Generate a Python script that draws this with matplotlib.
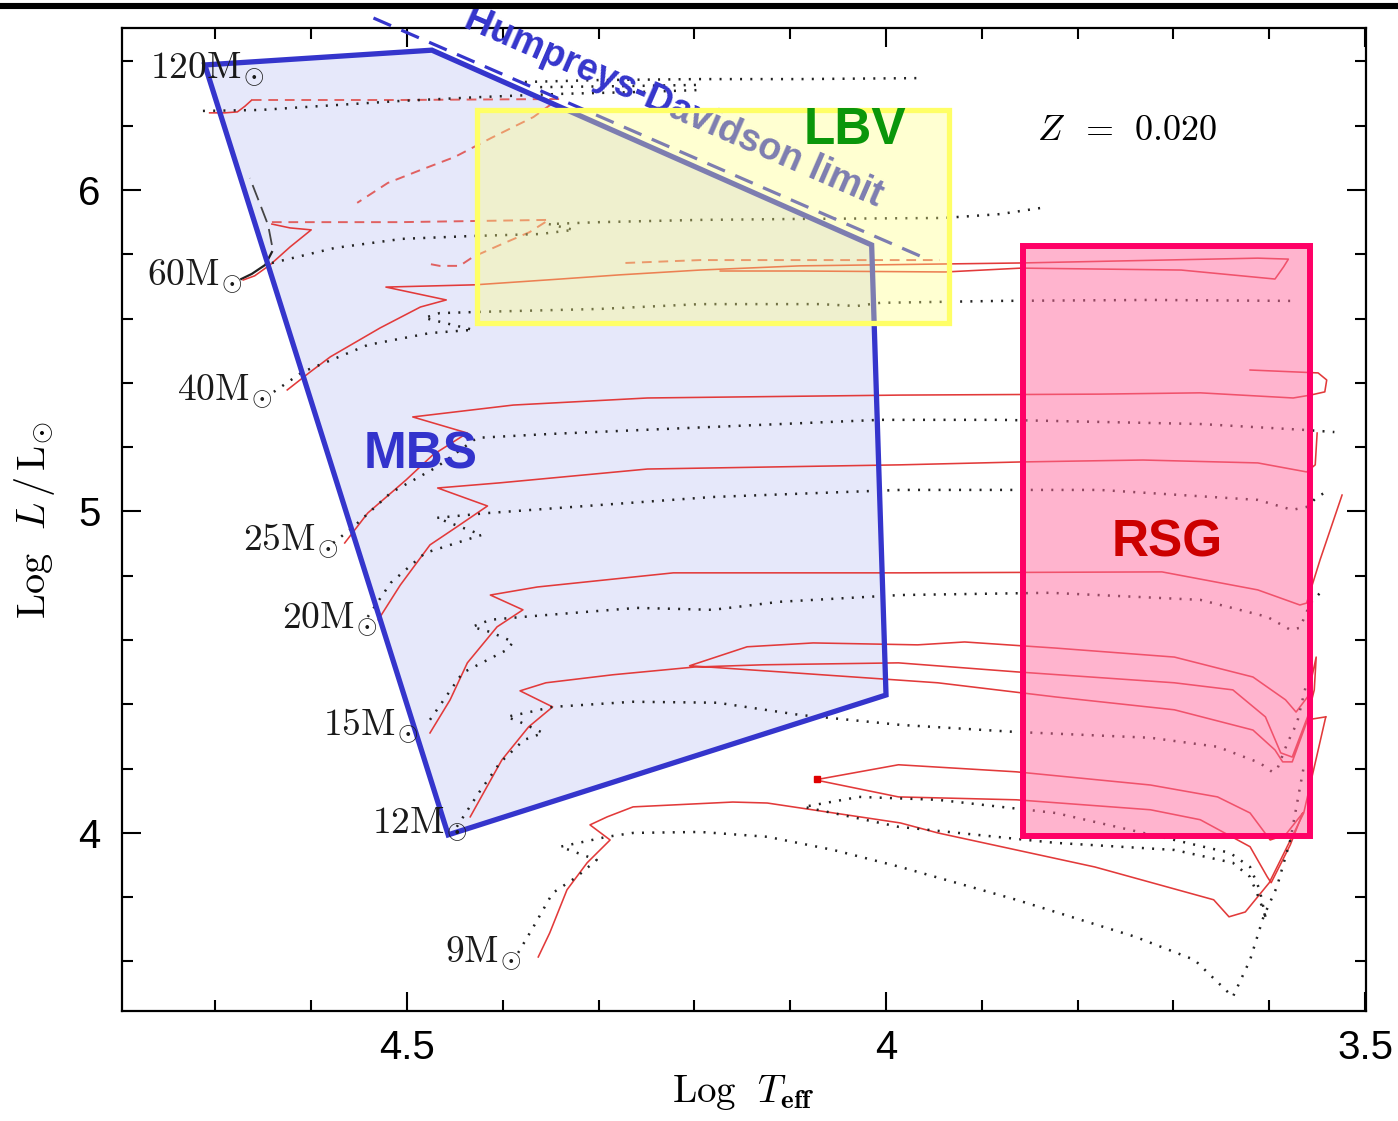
import matplotlib
matplotlib.use("Agg")
import matplotlib.pyplot as plt
from matplotlib.patches import Polygon, Rectangle
from matplotlib.lines import Line2D
from matplotlib.ticker import MultipleLocator, FuncFormatter

plt.rcParams['mathtext.fontset'] = 'cm'
plt.rcParams['font.family'] = ['Liberation Sans', 'DejaVu Sans']

# ---------------- data (log Teff, log L/Lsun) ----------------
# 120 Msun
m120_red_x = [4.706, 4.690, 4.677, 4.669, 4.662]
m120_red_y = [6.240, 6.240, 6.243, 6.261, 6.280]
m120_reddash_x = [4.662, 4.507, 4.342, 4.368, 4.412, 4.450, 4.486, 4.520, 4.552]
m120_reddash_y = [6.280, 6.280, 6.283, 6.227, 6.162, 6.103, 6.062, 6.022, 5.960]
m120_dot_x = [4.713, 4.653, 4.591, 4.507, 4.424, 4.340, 4.257, 4.194]
m120_dot_y = [6.246, 6.249, 6.261, 6.277, 6.289, 6.299, 6.305, 6.311]
m120_dot2_x = [4.377, 4.299, 4.194, 4.090, 3.967]
m120_dot2_y = [6.336, 6.342, 6.345, 6.345, 6.348]
m120_dot3_x = [4.361, 4.278, 4.194]
m120_dot3_y = [6.320, 6.323, 6.327]

# 60 Msun
m60_blk_x = [4.673, 4.662, 4.648, 4.641]
m60_blk_y = [5.723, 5.739, 5.767, 5.807]
m60_blkdash_x = [4.641, 4.645, 4.653, 4.664]
m60_blkdash_y = [5.829, 5.891, 5.953, 6.037]
m60_red_x = [4.671, 4.659, 4.643, 4.622, 4.600, 4.622, 4.641]
m60_red_y = [5.720, 5.733, 5.767, 5.823, 5.876, 5.882, 5.894]
m60_reddash_x = [4.641, 4.507, 4.352, 4.372, 4.403, 4.431, 4.445, 4.466, 4.482]
m60_reddash_y = [5.900, 5.900, 5.907, 5.869, 5.829, 5.792, 5.764, 5.764, 5.773]
m60_dot_x = [4.641, 4.575, 4.505, 4.431, 4.361, 4.326, 4.352, 4.299, 4.194, 4.090, 3.940, 3.881, 3.832]
m60_dot_y = [5.773, 5.820, 5.848, 5.857, 5.863, 5.876, 5.894, 5.900, 5.907, 5.910, 5.913, 5.925, 5.947]

# 40 Msun
m40_red_x = [4.625, 4.601, 4.580, 4.528, 4.486, 4.459, 4.522, 4.429, 4.340, 4.278, 4.194, 4.090,
             3.859, 3.612, 3.580, 3.585, 3.594, 3.692, 3.859, 3.938, 4.090, 4.173]
m40_red_y = [5.378, 5.434, 5.481, 5.571, 5.636, 5.658, 5.698, 5.705, 5.723, 5.736, 5.751, 5.764,
             5.773, 5.788, 5.785, 5.761, 5.723, 5.751, 5.757, 5.745, 5.748, 5.748]
m40_reddash_x = [4.272, 4.194, 4.090, 3.944]
m40_reddash_y = [5.773, 5.782, 5.782, 5.782]
m40_dot_x = [4.639, 4.609, 4.541, 4.476, 4.431, 4.482, 4.466, 4.422, 4.299, 4.194, 4.069, 4.031,
             4.006, 3.881, 3.724, 3.578]
m40_dot_y = [5.372, 5.434, 5.518, 5.555, 5.565, 5.602, 5.617, 5.621, 5.630, 5.645, 5.645, 5.639,
             5.649, 5.655, 5.658, 5.655]

# 25 Msun
m25_red_x = [4.565, 4.541, 4.501, 4.473, 4.437, 4.494, 4.389, 4.249, 3.985, 3.777, 3.672, 3.575,
             3.557, 3.542, 3.540, 3.549, 3.620]
m25_red_y = [4.902, 4.995, 5.098, 5.176, 5.244, 5.294, 5.331, 5.353, 5.362, 5.365, 5.369, 5.353,
             5.362, 5.372, 5.409, 5.431, 5.440]
m25_dot_x = [4.577, 4.556, 4.517, 4.469, 4.427, 4.351, 4.181, 4.006, 3.881, 3.672, 3.565, 3.532]
m25_dot_y = [4.902, 4.952, 5.058, 5.138, 5.229, 5.241, 5.263, 5.285, 5.285, 5.272, 5.254, 5.247]

# 20 Msun
m20_red_x = [4.530, 4.507, 4.476, 4.448, 4.416, 4.468, 4.403, 4.249, 3.985, 3.859, 3.732, 3.612,
             3.561, 3.552, 3.550]
m20_red_y = [4.663, 4.771, 4.896, 4.952, 5.017, 5.073, 5.089, 5.132, 5.145, 5.154, 5.160, 5.151,
             5.123, 5.145, 5.244]
m20_dot_x = [4.541, 4.517, 4.481, 4.422, 4.469, 4.416, 4.299, 4.181, 3.985, 3.777, 3.612, 3.576,
             3.561, 3.550, 3.537]
m20_dot_y = [4.672, 4.778, 4.871, 4.927, 4.980, 4.995, 5.020, 5.045, 5.067, 5.067, 5.036, 5.005,
             5.014, 5.045, 5.067]

# 15 Msun
m15_red_x = [4.476, 4.455, 4.437, 4.406, 4.379, 4.413, 4.364, 4.222, 3.985, 3.712, 3.612, 3.568,
             3.561, 3.547, 3.524]
m15_red_y = [4.311, 4.414, 4.529, 4.641, 4.694, 4.740, 4.765, 4.809, 4.809, 4.812, 4.756, 4.709,
             4.715, 4.849, 5.051]
m15_dot_x = [4.476, 4.442, 4.396, 4.389, 4.413, 4.432, 4.413, 4.379, 4.260, 4.181, 4.111, 3.985,
             3.829, 3.672, 3.602, 3.578, 3.568, 3.557, 3.542]
m15_dot_y = [4.352, 4.498, 4.569, 4.594, 4.625, 4.641, 4.663, 4.672, 4.700, 4.694, 4.719, 4.740,
             4.747, 4.725, 4.672, 4.632, 4.638, 4.715, 4.762]

# 12 Msun
m12_red_x = [4.434, 4.401, 4.373, 4.348, 4.382, 4.355, 4.285, 4.200, 4.128, 3.987, 3.864, 3.699,
             3.638, 3.604, 3.588, 3.576, 3.560, 3.553, 3.551, 3.560, 3.572, 3.583, 3.617, 3.699,
             3.823, 3.918, 3.967, 4.076, 4.145, 4.205, 4.111, 3.946, 3.823, 3.699, 3.617, 3.594,
             3.586, 3.576, 3.560, 3.541]
m12_red_y = [4.050, 4.227, 4.330, 4.392, 4.442, 4.467, 4.492, 4.516, 4.523, 4.529, 4.501, 4.467,
             4.445, 4.361, 4.249, 4.236, 4.361, 4.445, 4.547, 4.423, 4.376, 4.414, 4.485, 4.547,
             4.575, 4.594, 4.585, 4.591, 4.579, 4.520, 4.501, 4.467, 4.423, 4.383, 4.320, 4.258,
             4.221, 4.221, 4.352, 4.361]
m12_dot_x = [4.448, 4.425, 4.403, 4.378, 4.358, 4.382, 4.396, 4.372, 4.348, 4.264, 4.176, 4.090,
             3.985, 3.864, 3.724, 3.654, 3.610, 3.597, 3.592, 3.581, 3.571, 3.561]
m12_dot_y = [4.019, 4.125, 4.218, 4.289, 4.311, 4.345, 4.361, 4.376, 4.392, 4.408, 4.405, 4.367,
             4.336, 4.314, 4.296, 4.268, 4.218, 4.190, 4.196, 4.280, 4.342, 4.467]

# 9 Msun
m9_red_x = [4.363, 4.351, 4.333, 4.312, 4.288, 4.309, 4.291, 4.264, 4.160, 4.124, 3.985, 3.946,
            3.782, 3.658, 3.642, 3.625, 3.600, 3.583, 3.564, 3.541]
m9_red_y = [3.614, 3.689, 3.823, 3.907, 3.978, 4.025, 4.050, 4.081, 4.096, 4.093, 4.031, 4.000,
            3.894, 3.792, 3.739, 3.754, 3.845, 3.947, 4.062, 4.361]
m9_loop_x = [3.565, 3.578, 3.598, 3.602, 3.620, 3.672, 3.724, 3.864, 3.987, 4.074, 3.987, 3.864,
             3.724, 3.654, 3.620, 3.599, 3.583, 3.565]
m9_loop_y = [4.062, 3.963, 3.845, 3.863, 3.957, 4.041, 4.072, 4.103, 4.112, 4.165, 4.212, 4.190,
             4.149, 4.112, 4.062, 3.978, 3.994, 4.062]
m9_dot_x = [4.384, 4.368, 4.348, 4.323, 4.302, 4.340, 4.291, 4.264, 4.194, 4.124, 4.055, 3.985,
            3.864, 3.740, 3.678, 3.638, 3.620, 3.606, 3.592, 3.578, 3.564]
m9_dot_y = [3.627, 3.708, 3.813, 3.863, 3.916, 3.957, 3.988, 4.000, 4.003, 3.988, 3.947, 3.894,
            3.792, 3.677, 3.605, 3.490, 3.605, 3.739, 3.832, 3.978, 4.205]
m9_dotloop_x = [3.604, 3.610, 3.620, 3.641, 3.699, 3.823, 3.946, 4.028, 4.086, 3.987, 3.823, 3.699,
                3.638, 3.620, 3.610, 3.604]
m9_dotloop_y = [3.739, 3.823, 3.894, 3.938, 3.978, 4.062, 4.103, 4.112, 4.081, 4.019, 3.969, 3.947,
                3.907, 3.863, 3.792, 3.739]
m9_dot_point = (4.072, 4.168)

# region outlines
mbs_x = [4.711, 4.474, 4.015, 4.000, 4.457]
mbs_y = [6.389, 6.435, 5.829, 4.429, 3.994]
hd_x = [4.535, 3.957]
hd_y = [6.535, 5.785]
lbv_box = (4.427, 3.934, 5.586, 6.249)   # x_left, x_right, y_bottom, y_top
rsg_box = (3.857, 3.557, 3.991, 5.826)

mass_labels = ['120', '60', '40', '25', '20', '15', '12', '9']
mass_lab_x = [4.768, 4.771, 4.740, 4.671, 4.630, 4.588, 4.537, 4.460]
mass_lab_y = [6.348, 5.705, 5.347, 4.880, 4.638, 4.305, 4.000, 3.599]

# ---------------- figure ----------------
fig = plt.figure(figsize=(13.98, 11.21), dpi=100)
ax = fig.add_axes([0.08691, 0.09813, 0.89020, 0.87662])
ax.set_xlim(4.798, 3.499)
ax.set_ylim(3.446, 6.503)

RED = '#E23A3A'
REDD = '#E06060'
DOT = '#222222'

def red(x, y):
    ax.plot(x, y, color=RED, lw=1.15, zorder=2, solid_joinstyle='round')

def reddash(x, y):
    ax.plot(x, y, color=REDD, lw=1.4, ls=(0, (5, 3.5)), zorder=2)

def dot(x, y):
    ax.plot(x, y, color=DOT, lw=1.8, ls=(0, (0.8, 3.3)), zorder=2)

# MBS fill
ax.add_patch(Polygon(list(zip(mbs_x, mbs_y)), closed=True, facecolor='#E6E8FA',
                     edgecolor='none', zorder=1))

red(m120_red_x, m120_red_y); reddash(m120_reddash_x, m120_reddash_y)
dot(m120_dot_x, m120_dot_y); dot(m120_dot2_x, m120_dot2_y); dot(m120_dot3_x, m120_dot3_y)
ax.plot(m60_blk_x, m60_blk_y, color='#222222', lw=1.6, zorder=2)
ax.plot(m60_blkdash_x, m60_blkdash_y, color='#444444', lw=1.3, ls=(0, (9, 4)), zorder=2)
red(m60_red_x, m60_red_y); reddash(m60_reddash_x, m60_reddash_y); dot(m60_dot_x, m60_dot_y)
red(m40_red_x, m40_red_y); reddash(m40_reddash_x, m40_reddash_y); dot(m40_dot_x, m40_dot_y)
red(m25_red_x, m25_red_y); dot(m25_dot_x, m25_dot_y)
red(m20_red_x, m20_red_y); dot(m20_dot_x, m20_dot_y)
red(m15_red_x, m15_red_y); dot(m15_dot_x, m15_dot_y)
red(m12_red_x, m12_red_y); dot(m12_dot_x, m12_dot_y)
red(m9_red_x, m9_red_y); red(m9_loop_x, m9_loop_y)
dot(m9_dot_x, m9_dot_y); dot(m9_dotloop_x, m9_dotloop_y)
ax.plot([m9_dot_point[0]], [m9_dot_point[1]], 's', color='#E00000', ms=4, zorder=2)

# MBS outline
BLUE = '#3535CC'
ax.add_patch(Polygon(list(zip(mbs_x, mbs_y)), closed=True, facecolor='none',
                     edgecolor=BLUE, lw=3.8, zorder=3, joinstyle='miter'))
ax.plot(hd_x, hd_y, color=BLUE, lw=2.3, ls=(0, (6, 3.5)), zorder=3, clip_on=False)
ax.text(4.222, 6.255, 'Humpreys-Davidson limit', color=BLUE, fontsize=27, fontweight='bold',
        rotation=-23.5, rotation_mode='anchor', ha='center', va='center', zorder=3)

# LBV box
xl, xr, yb, yt = lbv_box
ax.add_patch(Rectangle((xr, yb), xl - xr, yt - yb, facecolor=(1, 1, 0.5, 0.36),
                       edgecolor='none', zorder=4))
ax.add_patch(Rectangle((xr, yb), xl - xr, yt - yb, facecolor='none',
                       edgecolor='#FFFF66', lw=3.8, zorder=5))
# RSG box
xl, xr, yb, yt = rsg_box
ax.add_patch(Rectangle((xr, yb), xl - xr, yt - yb, facecolor=(1, 0.42, 0.62, 0.5),
                       edgecolor='none', zorder=4))
ax.add_patch(Rectangle((xr, yb), xl - xr, yt - yb, facecolor='none',
                       edgecolor='#FF0066', lw=4.3, zorder=5))

ax.text(4.486, 5.176, 'MBS', color='#3333CC', fontsize=37, fontweight='bold',
        ha='center', va='center', zorder=6)
ax.text(4.032, 6.184, 'LBV', color='#0A960A', fontsize=37, fontweight='bold',
        ha='center', va='center', zorder=6)
ax.text(3.707, 4.902, 'RSG', color='#CC0000', fontsize=37, fontweight='bold',
        ha='center', va='center', zorder=6)
ax.text(3.842, 6.155, r'$Z\;\;=\;\,0.020$', fontsize=26, ha='left', va='baseline', zorder=6)

for lab, lx, ly in zip(mass_labels, mass_lab_x, mass_lab_y):
    ax.text(lx, ly, r'$%s\mathrm{M}_{\!\odot}$' % lab, fontsize=27, ha='left', va='baseline',
            color='#1a1a1a', zorder=6)

# axes styling
for s in ax.spines.values():
    s.set_linewidth(1.6)
ax.xaxis.set_major_locator(MultipleLocator(0.5))
ax.xaxis.set_minor_locator(MultipleLocator(0.1))
ax.yaxis.set_major_locator(MultipleLocator(1.0))
ax.yaxis.set_minor_locator(MultipleLocator(0.2))
fmt = FuncFormatter(lambda v, p: f"{v:g}")
ax.xaxis.set_major_formatter(fmt)
ax.yaxis.set_major_formatter(fmt)
ax.tick_params(which='both', direction='in', top=True, right=True, width=1.5)
ax.tick_params(which='major', length=14, labelsize=29)
ax.tick_params(which='minor', length=8)
ax.tick_params(axis='y', which='major', pad=15)
ax.tick_params(axis='x', which='major', pad=13)

fig.text(743 / 1398, 1 - 1092 / 1121, r'$\mathrm{Log}\ \ T_{\mathbf{eff}}$', fontsize=28,
         ha='center', va='center')
fig.text(35 / 1398, 1 - 520 / 1121, r'$\mathrm{Log}\ \ L\,/\,\mathrm{L}_{\odot}$', fontsize=29,
         rotation=90, ha='center', va='center')

# thick black rule at the top of the figure
fig.add_artist(Line2D([0, 1], [1 - 6.3 / 1121] * 2, color='black', lw=4.4,
                      transform=fig.transFigure))

fig.savefig('out.png', dpi=100)
